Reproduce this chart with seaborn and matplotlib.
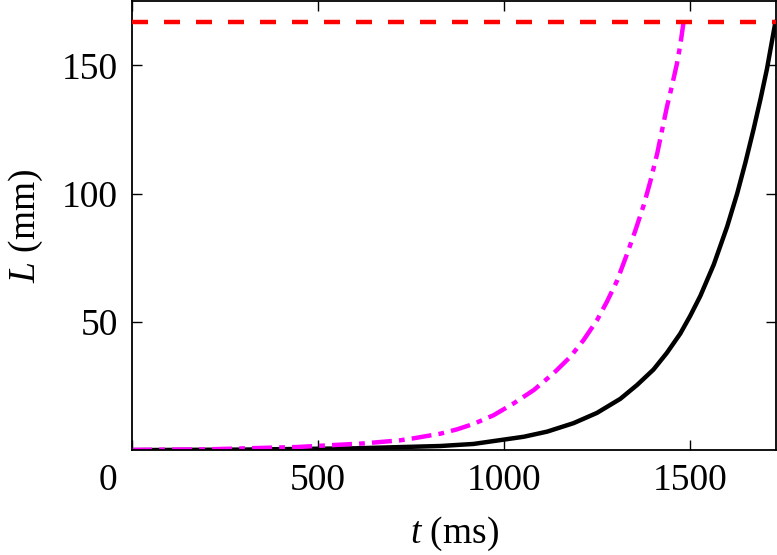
import pandas as pd
import seaborn as sns
import matplotlib
matplotlib.use('Agg')
from matplotlib import pyplot as plt
from matplotlib import transforms

# values
t_black = [0, 300, 600, 829, 918, 1053, 1116, 1187, 1250, 1313, 1358, 1402, 1438, 1474,
           1501, 1528, 1564, 1600, 1627, 1649, 1671, 1690, 1707, 1730]
L_black = [0.0, 0.2, 0.7, 1.6, 2.4, 5.2, 7.2, 10.5, 14.5, 20.0, 25.4, 31.4, 37.9, 45.4,
           52.4, 60.1, 72.3, 87.1, 100, 112, 125, 137, 148.5, 167]

t_magenta = [0, 200, 443, 622, 720, 757, 829, 874, 918, 972, 1026, 1080, 1133, 1178, 1214, 1250,
             1277, 1304, 1331, 1353, 1376, 1394, 1412, 1425, 1438, 1452, 1465, 1474, 1483]
L_magenta = [0.1, 0.3, 1.2, 2.6, 3.8, 4.6, 6.4, 8.1, 10.2, 13.6, 18.2, 23.4, 29.9, 36.3, 42.9, 50.6,
             57.9, 66.0, 76.5, 85.5, 95.6, 105.0, 115.6, 124.7, 133.7, 142.2, 150.6, 157.8, 167]

L_max = 167
x_ticks = [0, 500, 1000, 1500]
y_ticks = [50, 100, 150]

sns.set_style('ticks')
plt.rcParams['font.family'] = ['Liberation Serif', 'DejaVu Serif']
plt.rcParams['mathtext.fontset'] = 'custom'
plt.rcParams['mathtext.rm'] = 'Liberation Serif'
plt.rcParams['mathtext.it'] = 'Liberation Serif:italic'
plt.rcParams['text.color'] = 'black'
plt.rcParams['axes.labelcolor'] = 'black'
plt.rcParams['xtick.color'] = 'black'
plt.rcParams['ytick.color'] = 'black'

df_black = pd.DataFrame({'t': t_black, 'L': L_black})
df_magenta = pd.DataFrame({'t': t_magenta, 'L': L_magenta})

fig = plt.figure(figsize=(7.77, 5.55), dpi=100)
ax = fig.add_axes([0.170, 0.189, 0.829, 0.809])

sns.lineplot(x='t', y='L', data=df_black, color='black', linewidth=3.2,
             estimator=None, sort=False, ax=ax)
sns.lineplot(x='t', y='L', data=df_magenta, color='#ff00ff', linewidth=3.2,
             estimator=None, sort=False, ax=ax)
ax.lines[-1].set_dashes([4.5, 1.6, 1.3, 1.6])
ax.axhline(L_max, color='#ff0000', linewidth=3.2, dashes=(3.6, 3.6), zorder=3)

ax.set_xlim(0, 1732)
ax.set_ylim(0, 175)
ax.set_xticks(x_ticks)
ax.set_yticks(y_ticks)
ax.tick_params(direction='in', length=7, width=1, top=True, right=True,
               labelsize=27, pad=10)
for s in ax.spines.values():
    s.set_linewidth(1.3)
    s.set_color('black')

# the "0" label sits a bit left of the corner
lbl0 = ax.get_xticklabels()[0]
lbl0.set_transform(lbl0.get_transform() + transforms.ScaledTranslation(-24 / 100, 0, fig.dpi_scale_trans))

ax.set_xlabel('$t$ (ms)', fontsize=27, labelpad=12)
ax.set_ylabel('$L$ (mm)', fontsize=27, labelpad=12)

fig.savefig('out.png', dpi=100)
